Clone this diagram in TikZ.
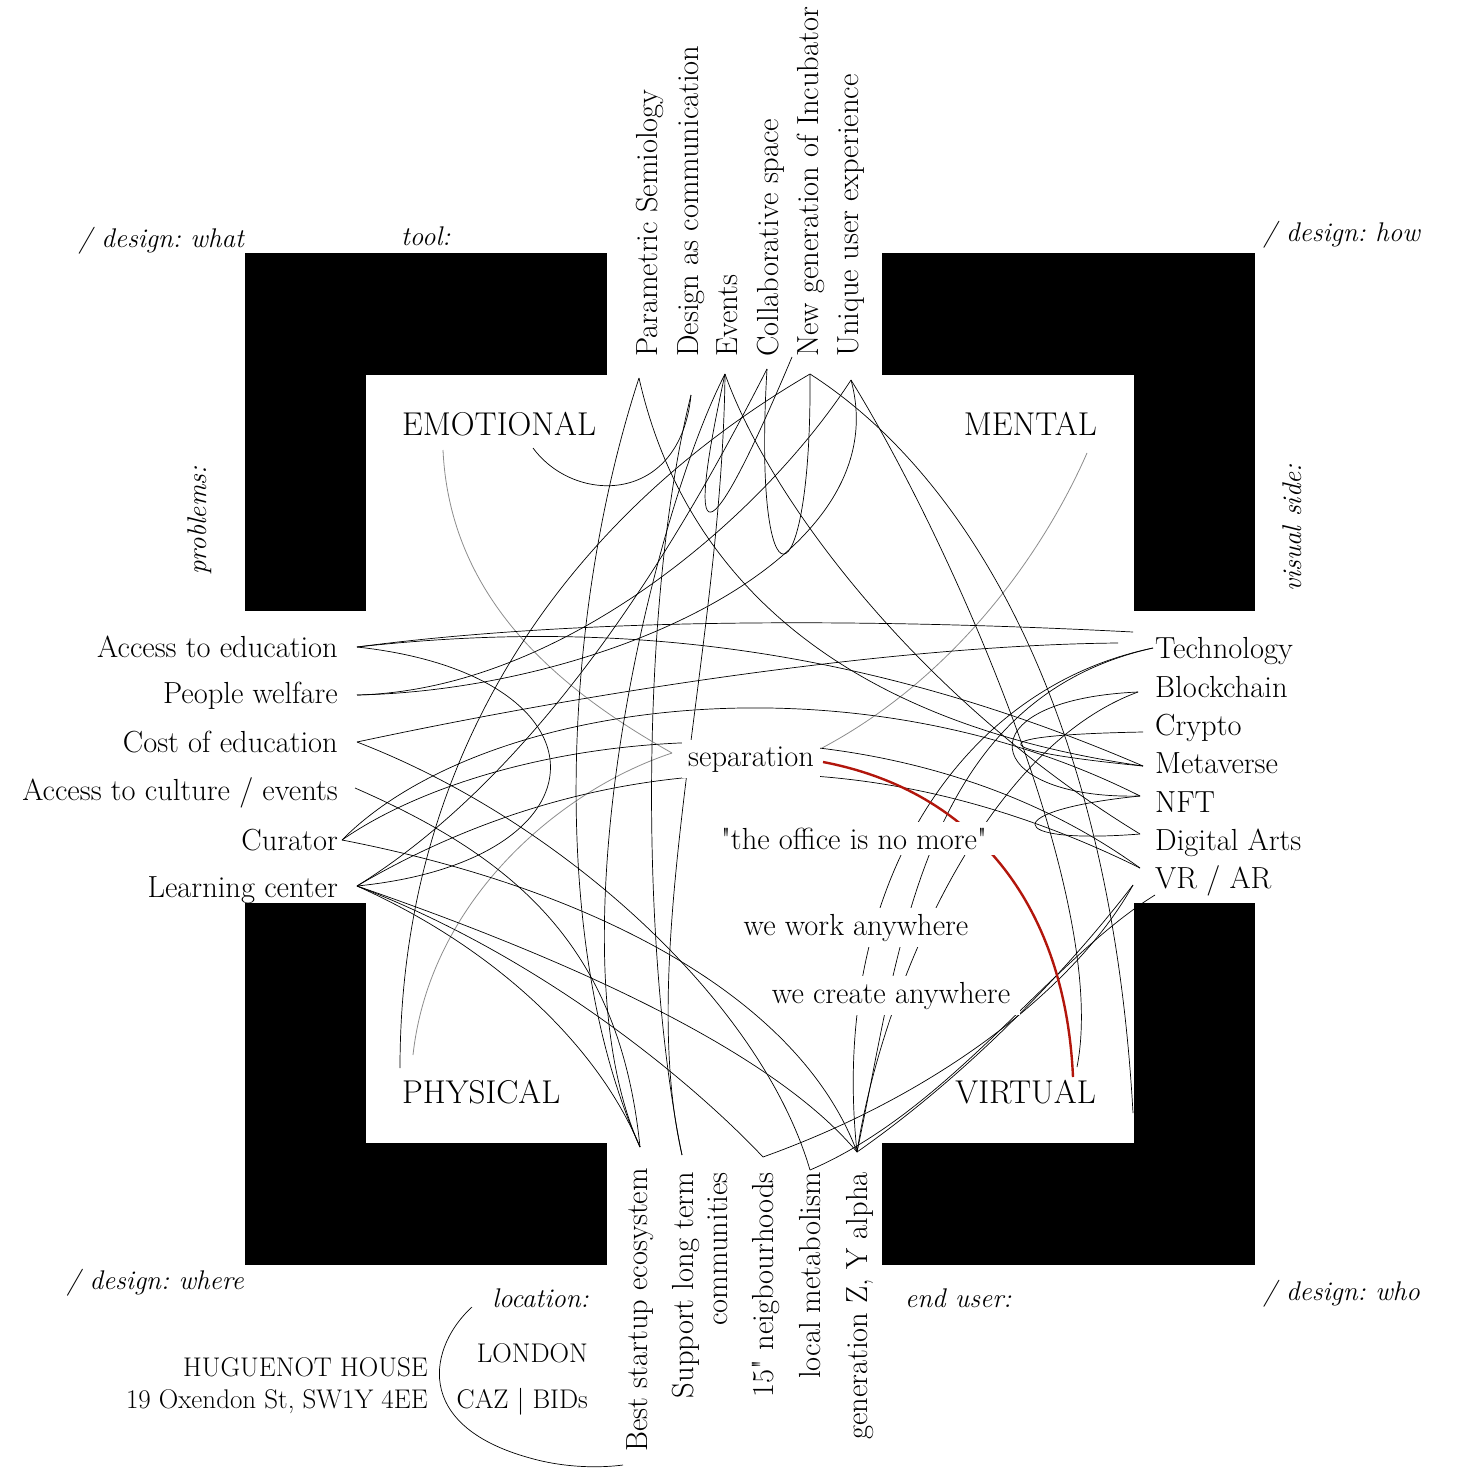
\documentclass[tikz,border=0pt]{standalone}
\definecolor{redc}{RGB}{178,22,12}
\definecolor{grayc}{RGB}{140,140,140}
\begin{document}
\frenchspacing
\begin{tikzpicture}[x=1pt,y=-1pt,
  lbl/.style={font=\fontsize{30.5}{36}\selectfont, inner sep=0pt},
  big/.style={font=\fontsize{33}{38}\selectfont, inner sep=0pt},
  ital/.style={font=\fontsize{27}{32}\selectfont\itshape, inner sep=0pt},
  loc/.style={font=\fontsize{27}{32}\selectfont, inner sep=0pt},
  cen/.style={lbl, fill=white, inner xsep=10pt, inner ysep=6pt},
  link/.style={line width=0.7pt, black},
  glink/.style={line width=0.8pt, grayc},
  rlink/.style={line width=2.4pt, redc}]
\useasboundingbox (0,0) rectangle (1456,1472);
% frames
\fill (245,253) rectangle (607,375); \fill (245,253) rectangle (366,611);
\fill (882,253) rectangle (1255,375); \fill (1134,253) rectangle (1255,611);
\fill (245,903) rectangle (366,1265); \fill (245,1143) rectangle (607,1265);
\fill (1134,903) rectangle (1255,1265); \fill (882,1143) rectangle (1255,1265);
% endpoints
\coordinate (t1) at (639,378); \coordinate (t2) at (691,395); \coordinate (t3) at (725,374);
\coordinate (t4) at (767,369); \coordinate (t5) at (810,374); \coordinate (t6) at (851,380);
\coordinate (t5b) at (792,357);
\coordinate (l1) at (357,647); \coordinate (l2) at (357,695); \coordinate (l3) at (357,742);
\coordinate (l4) at (355,788); \coordinate (l5) at (342,840); \coordinate (l6) at (357,886);
\coordinate (r1) at (1153,648); \coordinate (r2) at (1138,692); \coordinate (r3) at (1143,732);
\coordinate (r4) at (1143,766); \coordinate (r5) at (1140,796); \coordinate (r6) at (1140,834);
\coordinate (r7) at (1140,868); \coordinate (r8) at (1155,895); \coordinate (v1) at (1133,885);
\coordinate (e1) at (1133,632); \coordinate (e2) at (1118,643);
\coordinate (b1) at (640,1147); \coordinate (b2) at (682,1155); \coordinate (b3) at (763,1157);
\coordinate (b4) at (810,1170); \coordinate (b5) at (857,1152);
\coordinate (emo1) at (443,450); \coordinate (emo2) at (533,448); \coordinate (men) at (1087,453);
\coordinate (phy1) at (400,1068); \coordinate (phy2) at (413,1055);
\coordinate (vir) at (1073,1077); \coordinate (vir2) at (1077,1067); \coordinate (vb) at (1133,1113);
\coordinate (sepl) at (672,753); \coordinate (sepr) at (822,748); \coordinate (sepr2) at (823,762);
% gray and red
\draw[glink] (emo1) .. controls (450,600) and (560,690) .. (sepl);
\draw[glink] (sepl) .. controls (560,790) and (430,900) .. (phy2);
\draw[glink] (men) .. controls (1040,560) and (950,680) .. (sepr);
% black links
\draw[link] (emo2) .. controls (575,505) and (680,505) .. (t2);
\draw[link] (t2) .. controls (640,600) and (640,950) .. (b2);
\draw[link] (t3) .. controls (722,650) and (635,950) .. (b2);
\draw[link] (t1) .. controls (560,620) and (550,950) .. (b1);
\draw[link] (t3) .. controls (650,520) and (550,950) .. (b1);
\draw[link] (t3) .. controls (680,580) and (715,540) .. (t5b);
\draw[link] (t3) .. controls (770,500) and (920,700) .. (r6);
\draw[link] (t4) .. controls (752,620) and (812,610) .. (t5);
\draw[link] (phy1) .. controls (400,760) and (560,520) .. (t5);
\draw[link] (t1) .. controls (680,560) and (820,720) .. (r4);
\draw[link] (t5) .. controls (960,470) and (1110,700) .. (vb);
\draw[link] (t6) .. controls (950,540) and (1110,900) .. (vir2);
\draw[link] (l2) .. controls (560,690) and (760,520) .. (t6);
\draw[link] (l2) .. controls (600,690) and (900,560) .. (t6);
\draw[link] (t4) .. controls (700,500) and (560,760) .. (l6);
\draw[link] (l1) .. controls (600,615) and (900,620) .. (e1);
\draw[link] (l1) .. controls (600,620) and (850,640) .. (r4);
\draw[link] (l1) .. controls (615,675) and (615,860) .. (l6);
\draw[link] (l3) .. controls (600,690) and (900,645) .. (e2);
\draw[link] (l3) .. controls (560,820) and (760,1000) .. (b4);
\draw[link] (l4) .. controls (520,860) and (620,950) .. (b1);
\draw[link] (l5) .. controls (480,700) and (850,650) .. (r5);
\draw[link] (l5) .. controls (500,730) and (880,680) .. (r7);
\draw[link] (l5) .. controls (600,890) and (800,1000) .. (b5);
\draw[link] (l6) .. controls (500,950) and (600,1050) .. (b1);
\draw[link] (l6) .. controls (550,960) and (700,1090) .. (b3);
\draw[link] (l6) .. controls (600,970) and (780,1060) .. (b5);
\draw[link] (l6) .. controls (520,790) and (800,700) .. (r7);
\draw[link] (r1) .. controls (950,690) and (830,900) .. (b5);
\draw[link] (r1) .. controls (920,700) and (900,950) .. (b5);
\draw[link] (r2) .. controls (980,750) and (880,1000) .. (b5);
\draw[link] (r2) .. controls (960,700) and (980,800) .. (r5);
\draw[link] (r3) .. controls (980,735) and (980,750) .. (r4);
\draw[link] (r5) .. controls (1000,810) and (1000,845) .. (r6);
\draw[link] (b3) .. controls (950,1090) and (1080,980) .. (v1);
\draw[link] (v1) .. controls (1060,980) and (960,1080) .. (b5);
\draw[link] (b4) .. controls (950,1110) and (1050,960) .. (r8);
\draw[rlink] (sepr2) .. controls (970,790) and (1065,900) .. (vir);
% location arc
\coordinate (loc1) at (472,1307); \coordinate (loc2) at (623,1465);
\draw[link] (loc1) .. controls (430,1345) and (410,1425) .. (530,1458) .. controls (565,1468) and (600,1468) .. (loc2);
% center labels
\node[cen, inner xsep=6pt, anchor=base west] (sep) at (682,766) {separation};
\node[cen, anchor=base] (office) at (854,849) {\textquotedbl the office is no more\textquotedbl};
\node[cen, anchor=base] (work) at (856,935) {we work anywhere};
\node[cen, anchor=base] (create) at (891,1003) {we create anywhere};
% corner labels
\node[big, anchor=base west] (emo) at (402,435) {EMOTIONAL};
\node[big, anchor=base east] (ment) at (1097,435) {MENTAL};
\node[big, anchor=base west] (phys) at (402,1103) {PHYSICAL};
\node[big, anchor=base east] (virt) at (1096,1103) {VIRTUAL};
% left labels
\node[lbl, anchor=base east] (acced) at (338,657) {Access to education};
\node[lbl, anchor=base east] (pw) at (338,703) {People welfare};
\node[lbl, anchor=base east] (coe) at (338,752) {Cost of education};
\node[lbl, anchor=base east] (acc) at (338,800) {Access to culture / events};
\node[lbl, anchor=base east] (cur) at (338,850) {Curator};
\node[lbl, anchor=base east] (lcen) at (338,897) {Learning center};
% right labels
\node[lbl, anchor=base west] (tech) at (1155,658) {Technology};
\node[lbl, anchor=base west] (block) at (1155,697) {Blockchain};
\node[lbl, anchor=base west] (cryp) at (1155,735) {Crypto};
\node[lbl, anchor=base west] (meta) at (1155,773) {Metaverse};
\node[lbl, anchor=base west] (nft) at (1155,812) {NFT};
\node[lbl, anchor=base west] (dig) at (1155,850) {Digital Arts};
\node[lbl, anchor=base west] (vrar) at (1155,888) {VR / AR};
% top labels
\node[lbl, rotate=90, anchor=base west] (par) at (657,357) {Parametric Semiology};
\node[lbl, rotate=90, anchor=base west] (dac) at (698,357) {Design as communication};
\node[lbl, rotate=90, anchor=base west] (ev) at (737,357) {Events};
\node[lbl, rotate=90, anchor=base west] (col) at (778,357) {Collaborative space};
\node[lbl, rotate=90, anchor=base west] (ngi) at (818,357) {New generation of Incubator};
\node[lbl, rotate=90, anchor=base west] (uue) at (858,357) {Unique user experience};
% bottom labels
\node[lbl, rotate=90, anchor=base east] (bse) at (647,1168) {Best startup ecosystem};
\node[lbl, rotate=90, anchor=base east] (slt) at (693,1172) {Support long term};
\node[lbl, rotate=90, anchor=base east] (comm) at (727,1172) {communities};
\node[lbl, rotate=90, anchor=base east] (nb) at (773,1172) {15\textquotedbl{} neigbourhoods};
\node[lbl, rotate=90, anchor=base east] (lm) at (820,1172) {local metabolism};
\node[lbl, rotate=90, anchor=base east] (gz) at (867,1172) {generation Z, Y alpha};
% italic labels
\node[ital, anchor=base east] (dwhat) at (244,247) {/ design: what};
\node[ital, anchor=base west] (tool) at (401,245) {tool:};
\node[ital, anchor=base east] (dhow) at (1420,241) {/ design: how};
\node[ital, rotate=90, anchor=base west] (prob) at (206,575) {problems:};
\node[ital, rotate=90, anchor=base west] (vis) at (1301,592) {visual side:};
\node[ital, anchor=base east] (dwhere) at (244,1289) {/ design: where};
\node[ital, anchor=base east] (locn) at (589,1307) {location:};
\node[ital, anchor=base west] (euser) at (905,1307) {end user:};
\node[ital, anchor=base east] (dwho) at (1420,1300) {/ design: who};
% location texts
\node[loc, anchor=base east] (hh) at (428,1376) {HUGUENOT HOUSE};
\node[loc, anchor=base east] (ox) at (428,1408) {19 Oxendon St, SW1Y 4EE};
\node[loc, anchor=base east] (lon) at (588,1362) {LONDON};
\node[loc, anchor=base east] (caz) at (588,1408) {CAZ | BIDs};
\end{tikzpicture}
\end{document}
